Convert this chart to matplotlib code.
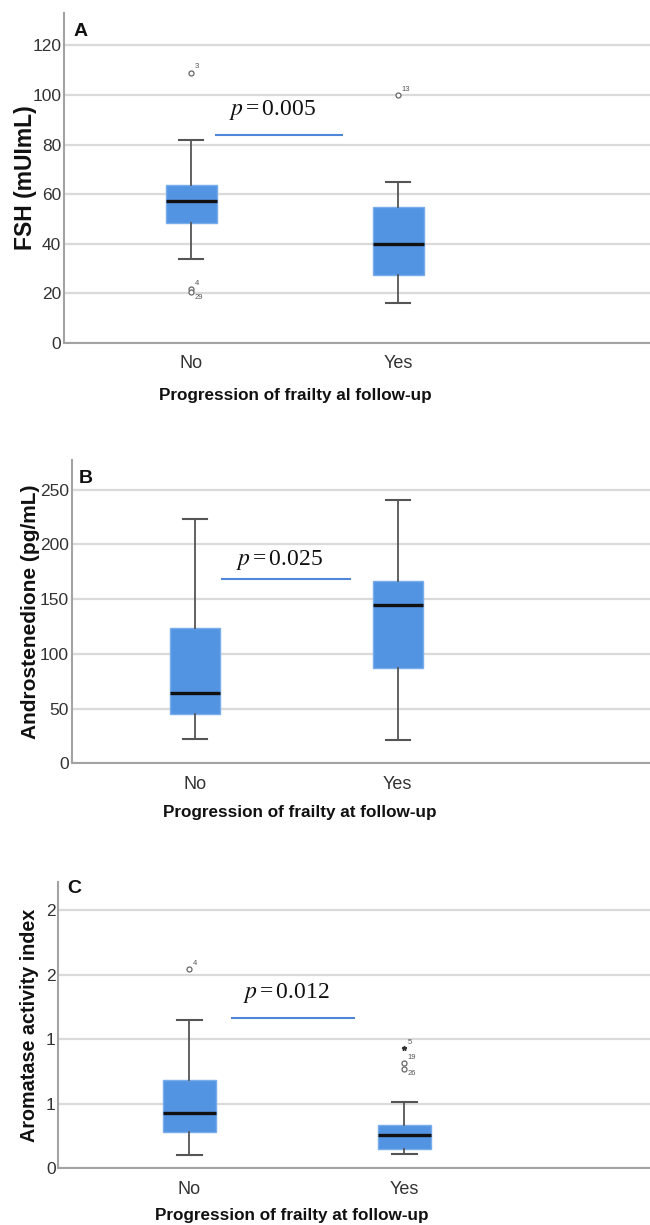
import matplotlib.pyplot as plt

plt.rcParams['mathtext.fontset'] = 'stix'

groups = ["No", "Yes"]

# panel A - FSH
fsh_q1 = [48.4, 27.4]
fsh_med = [57.3, 40.1]
fsh_q3 = [63.6, 54.7]
fsh_lo = [33.9, 16.0]
fsh_hi = [81.7, 64.8]
fsh_out = [[109.0, 21.8, 20.4], [99.8]]
fsh_out_ids = [["3", "4", "29"], ["13"]]
fsh_ext = [[], []]
fsh_ext_ids = [[], []]
fsh_yticks = [0, 20, 40, 60, 80, 100, 120]
fsh_yticklabels = ["0", "20", "40", "60", "80", "100", "120"]

# panel B - androstenedione
andro_q1 = [44.7, 87.2]
andro_med = [64.4, 144.2]
andro_q3 = [123.2, 166.3]
andro_lo = [22.2, 21.0]
andro_hi = [223.5, 240.9]
andro_out = [[], []]
andro_out_ids = [[], []]
andro_ext = [[], []]
andro_ext_ids = [[], []]
andro_yticks = [0, 50, 100, 150, 200, 250]
andro_yticklabels = ["0", "50", "100", "150", "200", "250"]

# panel C - aromatase activity index
aro_q1 = [0.279, 0.150]
aro_med = [0.426, 0.260]
aro_q3 = [0.684, 0.336]
aro_lo = [0.103, 0.111]
aro_hi = [1.152, 0.512]
aro_out = [[1.547], [0.814, 0.772]]
aro_out_ids = [["4"], ["19", "26"]]
aro_ext = [[], [0.933]]
aro_ext_ids = [[], ["5"]]
aro_yticks = [0, 0.5, 1.0, 1.5, 2.0]
aro_yticklabels = ["0", "1", "1", "2", "2"]

W, H = 650, 1225
BOX_COLOR = '#5294E2'
GRID = '#DADADA'
SPINE = '#A3A3A3'
WHISK = '#555555'
TICK_FONT = ['Liberation Sans Narrow', 'Liberation Sans', 'DejaVu Sans']
BOLD_FONT = ['Liberation Sans', 'DejaVu Sans']


def px_axes(fig, left, top, bottom, right=W):
    return fig.add_axes([left / W, 1 - bottom / H, (right - left) / W, (bottom - top) / H])


def draw_panel(ax, q1, med, q3, lo, hi, outs, out_ids, ext, ext_ids,
               ylim, xlim, yticks, yticklabels, ylabel, xlabel, letter,
               p_text, p_line, p_text_y, ylab_x, ylab_size, xlab_y, letter_pos):
    stats = []
    for i in range(len(groups)):
        stats.append({"label": groups[i], "q1": q1[i], "med": med[i], "q3": q3[i],
                      "whislo": lo[i], "whishi": hi[i], "fliers": []})
    ax.bxp(stats, positions=[1, 2], widths=0.247, capwidths=0.118, patch_artist=True,
           boxprops=dict(facecolor=BOX_COLOR, edgecolor='#78ACEB', linewidth=1.0),
           medianprops=dict(color='#111111', linewidth=2.4),
           whiskerprops=dict(color=WHISK, linewidth=1.3),
           capprops=dict(color=WHISK, linewidth=1.5),
           zorder=3)

    for i in range(len(groups)):
        prev = None
        for v, lab in zip(outs[i], out_ids[i]):
            ax.plot([i + 1], [v], marker='o', ms=3.6, mfc='white', mec='#666666',
                    mew=0.9, ls='none', zorder=4)
            below = prev is not None and abs(prev - v) < (ylim[1] * 0.05)
            off = (2.5, -6) if below else (2.5, 1.5)
            ax.annotate(lab, (i + 1, v), xytext=off, textcoords='offset points',
                        fontsize=5.5, color='#555555', family=TICK_FONT,
                        ha='left', va='bottom')
            prev = v
        for v, lab in zip(ext[i], ext_ids[i]):
            ax.plot([i + 1], [v], marker='*', ms=3.5, color='#333333', ls='none', zorder=4)
            ax.annotate(lab, (i + 1, v), xytext=(2.5, 1.5), textcoords='offset points',
                        fontsize=5.5, color='#555555', family=TICK_FONT,
                        ha='left', va='bottom')

    ax.hlines(p_line[2], p_line[0], p_line[1], color='#4F86DA', linewidth=1.5, zorder=4)
    ax.text((p_line[0] + p_line[1]) / 2 - 0.03, p_text_y, p_text, fontsize=17,
            family=['Liberation Serif', 'DejaVu Serif'],
            ha='center', va='center', color='#111111')

    ax.set_ylim(*ylim)
    ax.set_xlim(*xlim)
    ax.set_yticks(yticks)
    ax.set_yticklabels(yticklabels)
    ax.set_xticks([1, 2])
    ax.set_xticklabels(groups)
    ax.yaxis.grid(True, color=GRID, linewidth=1.6, zorder=0)
    ax.set_axisbelow(True)
    for s in ['top', 'right']:
        ax.spines[s].set_visible(False)
    for s in ['left', 'bottom']:
        ax.spines[s].set_color(SPINE)
        ax.spines[s].set_linewidth(1.5)
    ax.tick_params(axis='both', length=0, colors='#333333')
    ax.tick_params(axis='y', pad=2, labelsize=12.5)
    ax.tick_params(axis='x', pad=9, labelsize=13)
    for t in ax.get_xticklabels() + ax.get_yticklabels():
        t.set_family(TICK_FONT)

    ax.set_ylabel(ylabel, fontsize=ylab_size, fontweight='bold', family=BOLD_FONT, color='#111111')
    ax.yaxis.label.set_va('center')
    ax.yaxis.set_label_coords(ylab_x, 0.5)
    ax.set_xlabel(xlabel, fontsize=12.3, fontweight='bold', family=BOLD_FONT, color='#111111')
    ax.xaxis.label.set_va('center')
    ax.xaxis.set_label_coords(0.395, xlab_y)
    ax.text(letter_pos[0], letter_pos[1], letter, transform=ax.transAxes, fontsize=14,
            fontweight='bold', family=BOLD_FONT, ha='center', va='center', color='#111111')


fig = plt.figure(figsize=(6.5, 12.25), dpi=100)
fig.patch.set_facecolor('white')

ax_a = px_axes(fig, 64, 13, 343)
draw_panel(ax_a, fsh_q1, fsh_med, fsh_q3, fsh_lo, fsh_hi, fsh_out, fsh_out_ids,
           fsh_ext, fsh_ext_ids, (0, 133), (0.386, 3.217), fsh_yticks, fsh_yticklabels,
           "FSH (mUImL)", "Progression of frailty al follow-up", "A",
           r"$p\,$=$\,$0.005", (1.116, 1.732, 84.0), 93.8, -0.066, 16.5, -0.16, (0.028, 0.945))

ax_b = px_axes(fig, 71.7, 460, 763.3)
draw_panel(ax_b, andro_q1, andro_med, andro_q3, andro_lo, andro_hi, andro_out, andro_out_ids,
           andro_ext, andro_ext_ids, (0, 277), (0.392, 3.245), andro_yticks, andro_yticklabels,
           "Androstenedione (pg/mL)", "Progression of frailty at follow-up", "B",
           r"$p\,$=$\,$0.025", (1.128, 1.77, 168.3), 185.7, -0.071, 15.0, -0.163, (0.024, 0.94))

ax_c = px_axes(fig, 58.3, 881.7, 1168.3)
draw_panel(ax_c, aro_q1, aro_med, aro_q3, aro_lo, aro_hi, aro_out, aro_out_ids,
           aro_ext, aro_ext_ids, (0, 2.22), (0.391, 3.143), aro_yticks, aro_yticklabels,
           "Aromatase activity index", "Progression of frailty at follow-up", "C",
           r"$p\,$=$\,$0.012", (1.196, 1.769, 1.163), 1.357, -0.048, 14.2, -0.163, (0.027, 0.975))

fig.savefig("out.png", dpi=100)
